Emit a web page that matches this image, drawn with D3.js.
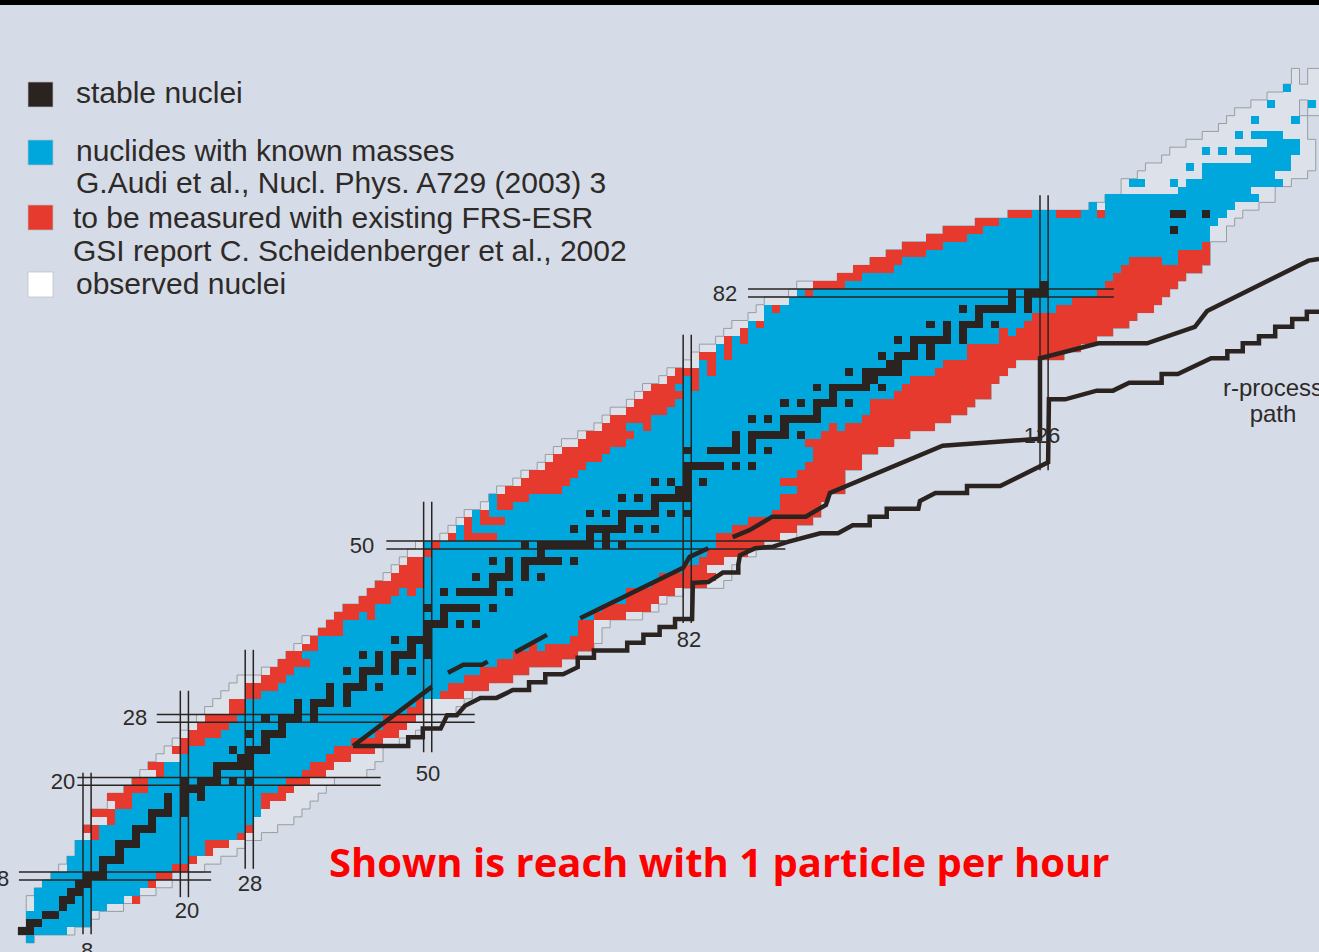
<!DOCTYPE html>
<html>
<head>
<meta charset="utf-8">
<style>
html, body { margin: 0; padding: 0; background: #d5dce7; overflow: hidden; }
svg { display: block; }
</style>
<script src="https://cdn.jsdelivr.net/npm/d3@7"></script>
</head>
<body>
<div id="chart"></div>
<script>
// every run is [Z, first N, last N]
var observedRuns = [
  [0,1,1],[1,0,6],[2,1,8],[3,1,9],[4,1,12],[5,1,14],[6,2,16],[7,3,18],[8,4,18],[9,5,22],
  [10,6,24],[11,7,26],[12,7,27],[13,8,29],[14,8,31],[15,9,33],[16,9,34],[17,11,35],[18,11,36],[19,13,37],
  [20,14,38],[21,15,42],[22,16,43],[23,17,44],[24,18,44],[25,19,46],[26,20,48],[27,21,49],[28,22,50],[29,23,53],
  [30,24,54],[31,25,55],[32,26,57],[33,27,60],[34,30,62],[35,32,66],[36,33,68],[37,34,70],[38,35,71],[39,37,71],
  [40,38,72],[41,39,76],[42,40,78],[43,42,79],[44,43,81],[45,44,86],[46,45,87],[47,46,87],[48,47,88],[49,48,90],
  [50,49,91],[51,52,95],[52,53,95],[53,54,97],[54,55,98],[55,57,98],[56,58,99],[57,59,101],[58,61,101],[59,62,101],
  [60,64,103],[61,65,103],[62,66,105],[63,67,107],[64,69,109],[65,71,112],[66,72,114],[67,73,116],[68,75,117],[69,76,119],
  [70,77,119],[71,79,120],[72,80,121],[73,82,122],[74,83,128],[75,84,130],[76,86,132],[77,87,134],[78,88,136],[79,90,137],
  [80,91,139],[81,92,140],[82,95,141],[83,96,142],[84,101,143],[85,103,145],[86,105,146],[87,107,146],[88,109,146],[89,112,148],
  [90,114,148],[91,118,149],[92,122,150],[93,132,152],[94,134,154],[95,136,154],[96,136,156],[97,138,158],[98,139,159],[99,141,159],
  [100,142,159],[101,144,159],[102,146,158],[103,148,158],[104,149,158],[105,150,157],[105,159,161],[106,152,157],[106,159,161],
  [107,154,161],[108,156,161],[109,157,157],[109,159,161],[110,157,157],[110,159,161]
];
var redRuns = [
  [7,3,16],[8,4,18],[9,6,20],[10,6,21],[11,7,23],[12,7,25],[13,9,27],[14,8,28],[15,11,28],[16,9,29],
  [17,12,30],[18,11,32],[19,13,33],[20,14,35],[21,17,37],[22,16,38],[23,20,40],[24,19,43],[25,20,44],[26,21,46],
  [27,22,47],[28,23,48],[29,26,49],[30,26,49],[31,28,54],[32,28,57],[33,30,60],[34,31,62],[35,32,66],[36,33,68],
  [37,35,70],[38,36,70],[39,37,70],[40,38,70],[41,39,74],[42,40,77],[43,42,78],[44,43,80],[45,44,84],[46,46,85],
  [47,47,84],[48,48,86],[49,50,89],[50,50,91],[51,53,93],[52,55,95],[53,55,97],[54,57,98],[55,59,98],[56,59,99],
  [57,60,101],[58,62,101],[59,63,101],[60,65,103],[61,66,103],[62,67,105],[63,69,107],[64,70,109],[65,72,112],[66,73,114],
  [67,75,116],[68,76,117],[69,77,119],[70,78,119],[71,80,120],[72,81,121],[73,85,122],[74,84,128],[75,87,130],[76,87,132],
  [77,89,134],[78,90,136],[79,92,137],[80,92,139],[81,95,140],[82,96,141],[83,98,142],[84,101,143],[85,103,145],[86,105,146],
  [87,107,146],[88,109,146],[89,112,146],[90,114,146],[91,118,120],[92,122,124]
];
var knownRuns = [
  [0,1,1],[1,0,5],[2,1,8],[3,1,8],[4,2,10],[5,2,12],[6,2,14],[7,3,15],[8,4,16],[9,6,18],
  [10,6,20],[11,7,22],[12,7,22],[13,10,26],[14,10,27],[15,12,28],[16,12,29],[17,14,29],[18,14,29],[19,16,31],
  [20,16,32],[21,18,34],[22,18,35],[23,20,37],[24,21,38],[25,23,40],[26,25,43],[27,26,44],[28,27,44],[29,28,47],
  [30,28,48],[31,30,51],[32,32,52],[33,33,54],[34,34,56],[35,36,58],[36,35,60],[37,37,64],[38,37,67],[39,40,68],
  [40,40,68],[41,42,70],[42,44,71],[43,46,74],[44,47,74],[45,50,77],[46,50,78],[47,50,81],[48,50,83],[49,51,84],
  [50,50,85],[51,54,85],[52,56,87],[53,56,89],[54,58,92],[55,61,93],[56,63,93],[57,67,95],[58,68,93],[59,69,95],
  [60,70,96],[61,72,97],[62,73,97],[63,75,96],[64,76,98],[65,75,99],[66,78,103],[67,80,104],[68,81,104],[69,82,107],
  [70,81,108],[71,82,109],[72,84,112],[73,84,113],[74,86,116],[75,86,116],[76,88,120],[77,90,120],[78,90,123],[79,92,124],
  [80,92,127],[81,95,129],[82,96,132],[83,102,133],[84,104,134],[85,108,135],[86,109,136],[87,112,142],[88,114,145],[89,117,146],
  [90,119,146],[91,121,147],[92,125,148],[93,134,149],[94,134,152],[95,143,151],[96,144,155],[97,146,154],[98,146,156],[99,152,156],
  [100,150,157],[101,154,157],[102,152,155],[104,152,152],[106,154,154],[108,156,156]
];
// cells that sit on top of the runs above
var redPatches = [
  [5,14,14],[37,63,63],[41,43,43],[44,48,48],[50,51,51],[51,55,58],[53,57,59],[65,77,77],[65,100,100],
  [70,83,83],[71,83,83],[72,85,85],[73,85,85],[74,87,87],[75,87,87],[76,89,89],[78,91,91],[80,93,93],[82,97,97],
  [92,128,130],[92,133,133]
];
var knownPatches = [
  [52,54,54],[54,56,56],[55,58,58],[56,58,58],[65,101,101],[77,122,122],[86,141,142],[93,132,132],
  [96,137,138],[96,142,142],[98,144,144],[100,146,146],[100,148,148],[102,150,150],[104,157,157],[106,159,159]
];
var stableByZ = [
  [1,[0,1]],[2,[1,2]],[3,[3,4]],[4,[5]],[5,[5,6]],[6,[6,7]],[7,[7,8]],[8,[8,9,10]],[9,[10]],[10,[10,11,12]],
  [11,[12]],[12,[12,13,14]],[13,[14]],[14,[14,15,16]],[15,[16]],[16,[16,17,18,20]],[17,[18,20]],[18,[18,20,22]],[19,[20,21,22]],
  [20,[20,22,23,24,26,28]],[21,[24]],[22,[24,25,26,27,28]],[23,[27,28]],[24,[26,28,29,30]],[25,[30]],[26,[28,30,31,32]],[27,[32]],
  [28,[30,32,33,34,36]],[29,[34,36]],[30,[34,36,37,38,40]],[31,[38,40]],[32,[38,40,41,42,44]],[33,[42]],[34,[40,42,43,44,46,48]],
  [35,[44,46]],[36,[42,44,46,47,48,50]],[37,[48,50]],[38,[46,48,49,50]],[39,[50]],[40,[50,51,52,54,56]],[41,[52]],
  [42,[50,52,53,54,55,56,58]],[44,[52,54,55,56,57,58,60]],[45,[58]],[46,[56,58,59,60,62,64]],[47,[60,62]],
  [48,[58,60,62,63,64,65,66,68]],[49,[64]],[50,[62,64,65,66,67,68,69,70,72,74]],[51,[70,72]],[52,[68,70,71,72,73,74,76,78]],[53,[74]],
  [54,[70,72,74,75,76,77,78,80,82]],[55,[78]],[56,[74,76,78,79,80,81,82]],[57,[81,82]],[58,[78,80,82,84]],[59,[82]],
  [60,[82,83,84,85,86,88,90]],[62,[82,85,86,87,88,90,92]],[63,[88,90]],[64,[88,90,91,92,93,94,96]],[65,[94]],
  [66,[90,92,94,95,96,97,98]],[67,[98]],[68,[94,96,98,99,100,102]],[69,[100]],[70,[98,100,101,102,103,104,106]],[71,[104,105]],
  [72,[102,104,105,106,107,108]],[73,[107,108]],[74,[106,108,109,110,112]],[75,[110,112]],[76,[108,110,111,112,113,114,116]],
  [77,[114,116]],[78,[112,114,116,117,118,120]],[79,[118]],[80,[116,118,119,120,121,122,124]],[81,[122,124]],[82,[122,124,125,126]],
  [83,[126]],[90,[142]],[92,[142,143,146]]
];

// shell closures: value, then the span the double line runs over
var magicN = [8, 20, 28, 50, 82, 126];
var magicNSpan = [[0.1, 20.6], [4.8, 31], [8.4, 36.2], [23.2, 55], [39.6, 76.2], [59, 93.9]];
var magicZ = [8, 20, 28, 50, 82];
var magicZSpan = [[0.1, 23.8], [7.3, 44.7], [17.1, 56.3], [45.4, 94.6], [90, 135.1]];

// r-process paths as [N, Z]
var pathLower = [
  [41.3,24],[48.1,24],[48.1,25.1],[49.9,25.1],[49.9,26.2],[52.1,26.2],[52.9,27.9],[54.1,27.9],[55.1,29.1],[57,30.1],[59,30.1],
  [61,31.1],[63,31.1],[63,32.1],[65,32.1],[65,33.1],[67.2,33.1],[69,34],[69,35.2],[71,35.2],[71,36.1],[75.1,36.1],[75.1,37.1],
  [77.1,37.1],[77.1,38.1],[79.1,38.1],[79.1,39.1],[81,39.1],[81,40.1],[83.1,40.1],[83.2,44.7],[85.1,44.8],[86.9,46],[88.8,46],
  [88.8,47],[89,48.2],[90.9,49.1],[93.1,49.3],[94.9,49.9],[98.9,51],[101.1,51],[102.9,52],[105,52],[105,53.1],[107.1,53.1],
  [107.1,54.1],[111,54.1],[111.2,55.1],[113.1,56.1],[117,56.1],[117,57],[121.1,57],[127,60],[127.1,68],[129.1,68],[133,69.1],
  [135,69.1],[137,70.1],[141,70.1],[141,71.2],[143,71.2],[147.1,73.2],[149.1,73.2],[149.1,74.1],[151,74.1],[151,75.1],[153,75.1],
  [153,76],[155,76],[155,77.2],[157.1,77.2],[157.1,78.2],[158.9,78.2],[158.9,79.1],[160.4,79.1]
];
// the upper path is broken where the known masses lie over it
var pathUpper = [
  [[41.3,24],[51,31.5]],
  [[53,33.3],[54.9,34.3],[57.2,34.3],[57.9,34.7]],
  [[61.3,35.9],[65.2,38.1]],
  [[69.3,40.2],[82,46.6],[82.8,48],[85.1,49.1]],
  [[88.1,50.5],[90.2,51.4],[93,53.1],[97.1,53.1],[99.6,54.6],[100.1,56.1],[114,62.1],[126,63],[126,73.2],[133.2,75.1],
   [139.2,75.1],[145.1,77.2],[146.6,79.2],[159.1,85.6],[160.4,85.8]]
];

var legendLabels = ['stable nuclei', 'nuclides with known masses', 'G.Audi et al., Nucl. Phys. A729 (2003) 3',
  'to be measured with existing FRS-ESR', 'GSI report C. Scheidenberger et al., 2002', 'observed nuclei'];
var legendX = [76, 76, 76, 73, 73, 76];
var legendY = [103, 161, 193, 228, 261, 294];
var swatchColors = ['#2a2320', '#00a7dd', '#e63a2e', '#ffffff'];
var swatchY = [82, 140, 205, 272];

// tick style labels round the chart
var labels = [
  ['8', 3, 886], ['20', 63, 789], ['28', 135, 725], ['50', 362, 553], ['82', 725, 301],
  ['8', 87, 958], ['20', 187, 918], ['28', 250, 891], ['50', 428, 781], ['82', 689, 647], ['126', 1042, 443]
];
var pathLabels = [['r-process', 1273, 396], ['path', 1273, 422]];

var width = 1319, height = 952;
var textColor = '#2d2a28';

var x = d3.scaleLinear().domain([8, 126]).range([83, 1040]);
var y = d3.scaleLinear().domain([8, 82]).range([872, 289]);

var svg = d3.select('#chart').append('svg').attr('width', width).attr('height', height);
svg.append('rect').attr('width', width).attr('height', height).attr('fill', '#d5dce7');
svg.append('rect').attr('width', width).attr('height', 5).attr('fill', '#000');

function drawRuns(runs, color) {
  svg.append('g').attr('shape-rendering', 'crispEdges').selectAll('rect')
    .data(runs)
    .enter()
    .append('rect')
    .attr('x', function (d) { return x(d[1]); })
    .attr('y', function (d) { return y(d[0]); })
    .attr('width', function (d) { return x(d[2] + 1) - x(d[1]); })
    .attr('height', function (d) { return y(d[0] - 1) - y(d[0]); })
    .attr('fill', color);
}

drawRuns(observedRuns, '#dce1ea');

// grey outline round the observed area, only on sides with no neighbour
var observedCells = new Set();
observedRuns.forEach(function (r) {
  d3.range(r[1], r[2] + 1).forEach(function (n) { observedCells.add(r[0] + ':' + n); });
});
var edge = d3.path();
observedRuns.forEach(function (r) {
  var z = r[0];
  d3.range(r[1], r[2] + 1).forEach(function (n) {
    if (!observedCells.has((z + 1) + ':' + n)) { edge.moveTo(x(n), y(z)); edge.lineTo(x(n + 1), y(z)); }
    if (!observedCells.has((z - 1) + ':' + n)) { edge.moveTo(x(n), y(z - 1)); edge.lineTo(x(n + 1), y(z - 1)); }
    if (!observedCells.has(z + ':' + (n - 1))) { edge.moveTo(x(n), y(z)); edge.lineTo(x(n), y(z - 1)); }
    if (!observedCells.has(z + ':' + (n + 1))) { edge.moveTo(x(n + 1), y(z)); edge.lineTo(x(n + 1), y(z - 1)); }
  });
});
svg.append('path').attr('d', edge.toString()).attr('fill', 'none').attr('stroke', '#999ca2').attr('stroke-width', 1);

drawRuns(redRuns, '#e63a2e');
drawRuns(knownRuns, '#00a7dd');
drawRuns(redPatches, '#e63a2e');
drawRuns(knownPatches, '#00a7dd');

var stableRuns = [];
stableByZ.forEach(function (row) {
  row[1].forEach(function (n) { stableRuns.push([row[0], n, n]); });
});
drawRuns(stableRuns, '#2a2320');

// double lines at the magic numbers
var magic = svg.append('g').attr('stroke', '#2a2420').attr('stroke-width', 1.5);
magicN.forEach(function (n, i) {
  [n, n + 1].forEach(function (v) {
    magic.append('line').attr('x1', x(v)).attr('x2', x(v))
      .attr('y1', y(magicNSpan[i][0])).attr('y2', y(magicNSpan[i][1]));
  });
});
magicZ.forEach(function (z, i) {
  [z, z - 1].forEach(function (v) {
    magic.append('line').attr('y1', y(v)).attr('y2', y(v))
      .attr('x1', x(magicZSpan[i][0])).attr('x2', x(magicZSpan[i][1]));
  });
});

var line = d3.line().x(function (d) { return x(d[0]); }).y(function (d) { return y(d[1]); });
[pathLower].concat(pathUpper).forEach(function (p) {
  svg.append('path').attr('d', line(p)).attr('fill', 'none')
    .attr('stroke', '#2a2320').attr('stroke-width', 4.5).attr('stroke-linejoin', 'miter');
});

// legend
svg.append('g').selectAll('rect').data(swatchColors).enter().append('rect')
  .attr('x', 28).attr('y', function (d, i) { return swatchY[i]; })
  .attr('width', 25).attr('height', 25)
  .attr('fill', function (d) { return d; })
  .attr('stroke', '#b9bcc1').attr('stroke-width', 0.7);

svg.append('g').selectAll('text').data(legendLabels).enter().append('text')
  .attr('x', function (d, i) { return legendX[i]; })
  .attr('y', function (d, i) { return legendY[i]; })
  .attr('font-family', 'Liberation Sans').attr('font-size', 30).attr('fill', textColor)
  .text(function (d) { return d; });

svg.append('g').selectAll('text').data(labels).enter().append('text')
  .attr('x', function (d) { return d[1]; })
  .attr('y', function (d) { return d[2]; })
  .attr('text-anchor', 'middle')
  .attr('font-family', 'Liberation Sans').attr('font-size', 22).attr('fill', textColor)
  .text(function (d) { return d[0]; });

svg.append('g').selectAll('text').data(pathLabels).enter().append('text')
  .attr('x', function (d) { return d[1]; })
  .attr('y', function (d) { return d[2]; })
  .attr('text-anchor', 'middle')
  .attr('font-family', 'Liberation Sans').attr('font-size', 24).attr('fill', textColor)
  .text(function (d) { return d[0]; });

svg.append('text').attr('x', 329).attr('y', 877)
  .attr('font-family', 'Open Sans').attr('font-weight', 700).attr('font-size', 40).attr('fill', '#ff0000')
  .text('Shown is reach with 1 particle per hour');
</script>
</body>
</html>
